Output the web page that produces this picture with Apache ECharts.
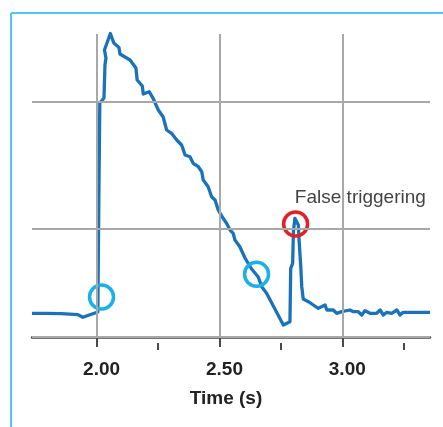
<!DOCTYPE html>
<html>
<head>
<meta charset="utf-8">
<script src="https://cdn.jsdelivr.net/npm/echarts@6/dist/echarts.min.js"></script>
<style>
  html, body { margin: 0; padding: 0; background: #fff; }
  #chart { width: 443px; height: 427px; }
</style>
</head>
<body>
<div id="chart"></div>
<script>
// 时间 (s) 与信号幅值 (任意单位) —— 从图上读出
const timeS = [
  1.737, 1.790, 1.855, 1.924, 1.944, 1.973, 2.005, 2.009, 2.013, 2.030,
  2.034, 2.038, 2.032, 2.056, 2.070, 2.091, 2.095, 2.136, 2.160, 2.165,
  2.186, 2.190, 2.214, 2.230, 2.251, 2.271, 2.285, 2.305, 2.326, 2.346,
  2.360, 2.380, 2.393, 2.414, 2.428, 2.434, 2.454, 2.468, 2.482, 2.495,
  2.515, 2.529, 2.543, 2.556, 2.563, 2.583, 2.604, 2.631, 2.658, 2.672,
  2.692, 2.760, 2.787, 2.790, 2.798, 2.801, 2.807, 2.821, 2.824, 2.831,
  2.835, 2.841, 2.862, 2.882, 2.902, 2.930, 2.937, 2.963, 2.977, 2.998,
  3.031, 3.045, 3.065, 3.079, 3.092, 3.113, 3.140, 3.154, 3.167, 3.181,
  3.201, 3.222, 3.235, 3.248, 3.289, 3.357
];
const signal = [
  23.7, 23.7, 23.3, 22.3, 19.7, 22.3, 25, 137, 234, 239,
  272, 279, 287, 303.5, 294, 289.5, 283, 277, 269, 257,
  251, 243, 245.3, 238.7, 227, 220, 207, 203.7, 197, 192,
  182, 180.3, 173.7, 170.3, 165.3, 157, 150.3, 140.3, 137, 127,
  118.7, 113.7, 107, 103.7, 97, 90.3, 79, 68, 60, 50.3,
  43.7, 12, 15.3, 68.7, 73.7, 105, 118.7, 112, 97, 70.3,
  50.3, 38, 35.3, 32, 28.7, 32, 27, 27, 23.7, 25.3,
  27, 25.3, 25.3, 22, 26.3, 23.7, 23.7, 27, 22, 24.7,
  23.7, 27, 22, 24.7, 24.7, 24.7
];

// 标注圆圈 (触发点)
const markerTimes = [2.020, 2.651, 2.810];
const markerValues = [40, 62.7, 113];
const markerColors = ['#1ab1e8', '#1ab1e8', '#e2202a'];
const markerLabels = ['', '', 'False triggering'];

// 网格线 / 刻度
const gridTimes = [2.0, 2.5, 3.0];
const gridLevels = [0, 108, 235];
const majorTicks = [2.0, 2.5, 3.0];
const minorTicks = [2.25, 2.75, 3.25];

const chart = echarts.init(document.getElementById('chart'));

const lineData = timeS.map((t, i) => [t, signal[i]]);
const markerData = markerTimes.map((t, i) => ({
  value: [t, markerValues[i]],
  itemStyle: { color: 'rgba(0,0,0,0)', borderColor: markerColors[i], borderWidth: 3.5, opacity: 1 },
  label: {
    show: markerLabels[i] !== '',
    formatter: markerLabels[i],
    position: [13, -12],
    align: 'left',
    verticalAlign: 'middle',
    fontFamily: 'Liberation Sans',
    fontSize: 19,
    color: '#444'
  }
}));

const gridLineStyle = { color: '#a8a8a8', width: 2, type: 'solid' };

const option = {
  animation: false,
  grid: { left: 32, right: 13, top: 34, bottom: 90 },
  xAxis: [{
    type: 'value',
    min: 1.737,
    max: 3.357,
    offset: 6,
    splitLine: { show: false },
    axisLine: { show: true, lineStyle: { color: '#4a4a4a', width: 2.5 } },
    axisTick: { show: true, customValues: majorTicks, length: 10, lineStyle: { color: '#4a4a4a', width: 2 } },
    axisLabel: {
      customValues: majorTicks,
      formatter: v => v.toFixed(2),
      margin: 17,
      fontFamily: 'Liberation Sans',
      fontWeight: 'bold',
      fontSize: 19,
      color: '#222',
      padding: [0, 0, 0, 10]
    },
    name: 'Time (s)',
    nameLocation: 'middle',
    nameGap: 46,
    nameTextStyle: {
      fontFamily: 'Liberation Sans',
      fontWeight: 'bold',
      fontSize: 19,
      color: '#222',
      padding: [0, 10, 0, 0]
    }
  }, {
    type: 'value',
    position: 'bottom',
    min: 1.737,
    max: 3.357,
    offset: 6,
    splitLine: { show: false },
    axisLine: { show: false },
    axisTick: { show: true, customValues: minorTicks, length: 7, lineStyle: { color: '#4a4a4a', width: 2 } },
    axisLabel: { show: false }
  }],
  yAxis: {
    type: 'value',
    min: 0,
    max: 303,
    show: false,
    splitLine: { show: false }
  },
  series: [{
    // 背景网格线
    type: 'line',
    data: [],
    silent: true,
    z: 1,
    markLine: {
      silent: true,
      symbol: 'none',
      label: { show: false },
      lineStyle: gridLineStyle,
      data: gridTimes.map(t => ({ xAxis: t })).concat(gridLevels.map(v => ({ yAxis: v })))
    }
  }, {
    name: 'signal',
    type: 'line',
    data: lineData,
    showSymbol: false,
    clip: false,
    z: 3,
    lineStyle: { color: '#1a72b9', width: 3.3, join: 'round' }
  }, {
    name: 'markers',
    type: 'scatter',
    data: markerData,
    symbol: 'circle',
    symbolSize: 24,
    z: 4
  }],
  graphic: [
    { type: 'line', shape: { x1: 11, y1: 13, x2: 443, y2: 13 }, style: { stroke: '#4ec6f0', lineWidth: 2 } },
    { type: 'line', shape: { x1: 11, y1: 13, x2: 11, y2: 427 }, style: { stroke: '#4ec6f0', lineWidth: 2 } }
  ]
};

chart.setOption(option);
</script>
</body>
</html>
